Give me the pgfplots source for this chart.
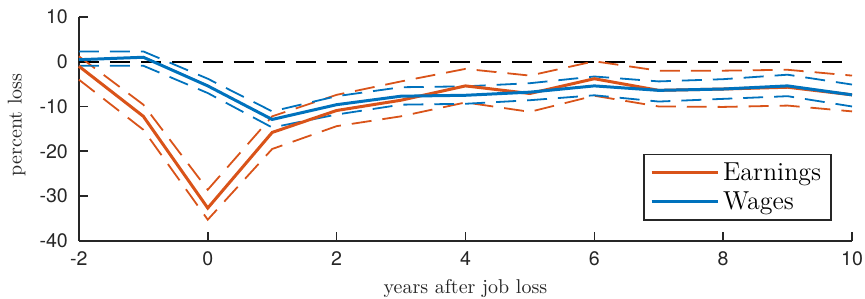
\documentclass[border=0pt]{standalone}
\usepackage{fontspec}
\usepackage{pgfplots}
\pgfplotsset{compat=1.18}
\usetikzlibrary{calc}
\newfontfamily\tickfont{TeX Gyre Heros}
\definecolor{morange}{rgb}{0.850,0.325,0.098}
\definecolor{mblue}{rgb}{0.000,0.447,0.741}
\definecolor{axgray}{gray}{0.15}
\begin{document}
\begin{tikzpicture}
\begin{axis}[
  name=ax,
  scale only axis,
  width=387pt, height=112pt,
  xmin=-2, xmax=10, ymin=-40, ymax=10,
  xtick={-2,0,...,10}, ytick={-40,-30,...,10},
  axis lines=left,
  axis line style={-, axgray, line width=0.8pt},
  tick style={axgray, line width=0.8pt},
  tick align=inside,
  major tick length=4.5pt,
  ticklabel style={font=\fontsize{9.8}{11}\selectfont\tickfont, text=axgray},
  yticklabel style={xshift=-2pt},
  xticklabel style={yshift=-2pt},
  /pgf/number format/assume math mode=true,
  xlabel={years after job loss},
  ylabel={percent loss},
  label style={font=\fontsize{10}{12}\selectfont, text=axgray},
  xlabel style={at={(axis description cs:0.5,-0.214)}, anchor=center},
  ylabel style={at={(axis description cs:-0.0805,0.518)}, anchor=center},
  legend style={at={(0.974,0.089)}, anchor=south east, draw=axgray, line width=0.8pt,
    font=\fontsize{13}{15}\selectfont, row sep=0pt, inner xsep=3pt, inner ysep=2pt},
  legend cell align=left,
  legend image code/.code={\draw[#1, line width=1.5pt] (0pt,0pt) -- (33pt,0pt);},
  clip=false,
]
\addplot[black, line width=0.9pt, dash pattern=on 10pt off 5.5pt, forget plot] coordinates {(-2,0) (10,0)};
% earnings CI
\addplot[morange, line width=0.9pt, dash pattern=on 10pt off 5.5pt, forget plot] coordinates {
(-2,1.2) (-1,-9.6) (0,-28.6) (1,-12.2) (2,-7.4) (3,-4.4) (4,-1.6) (5,-3.1) (6,0.1) (7,-2.0) (8,-2.0) (9,-1.8) (10,-3.1)};
\addplot[morange, line width=0.9pt, dash pattern=on 10pt off 5.5pt, forget plot] coordinates {
(-2,-4.0) (-1,-15.2) (0,-35.3) (1,-19.5) (2,-14.4) (3,-12.2) (4,-9.1) (5,-11.2) (6,-7.6) (7,-10.0) (8,-10.1) (9,-9.8) (10,-11.1)};
% wages CI
\addplot[mblue, line width=0.9pt, dash pattern=on 10pt off 5.5pt, forget plot] coordinates {
(-2,2.3) (-1,2.3) (0,-3.8) (1,-11.1) (2,-7.7) (3,-5.7) (4,-5.5) (5,-4.8) (6,-3.3) (7,-4.4) (8,-3.9) (9,-2.9) (10,-5.1)};
\addplot[mblue, line width=0.9pt, dash pattern=on 10pt off 5.5pt, forget plot] coordinates {
(-2,-0.9) (-1,-0.9) (0,-7.0) (1,-14.7) (2,-11.8) (3,-9.6) (4,-9.4) (5,-8.6) (6,-7.5) (7,-8.9) (8,-8.3) (9,-7.7) (10,-10.0)};
% point estimates
\addplot[morange, line width=1.5pt] coordinates {
(-2,-1.0) (-1,-12.2) (0,-32.7) (1,-15.8) (2,-10.9) (3,-8.6) (4,-5.4) (5,-7.1) (6,-3.8) (7,-6.4) (8,-6.1) (9,-5.7) (10,-7.4)};
\addlegendentry{Earnings}
\addplot[mblue, line width=1.5pt] coordinates {
(-2,0.45) (-1,1.0) (0,-5.4) (1,-12.9) (2,-9.6) (3,-7.7) (4,-7.5) (5,-6.8) (6,-5.4) (7,-6.4) (8,-6.1) (9,-5.4) (10,-7.4)};
\addlegendentry{Wages}
\end{axis}
\pgfresetboundingbox
\path ($(ax.south west)+(-39.5pt,-29pt)$) rectangle ($(ax.north east)+(6.5pt,8.5pt)$);
\end{tikzpicture}
\end{document}
